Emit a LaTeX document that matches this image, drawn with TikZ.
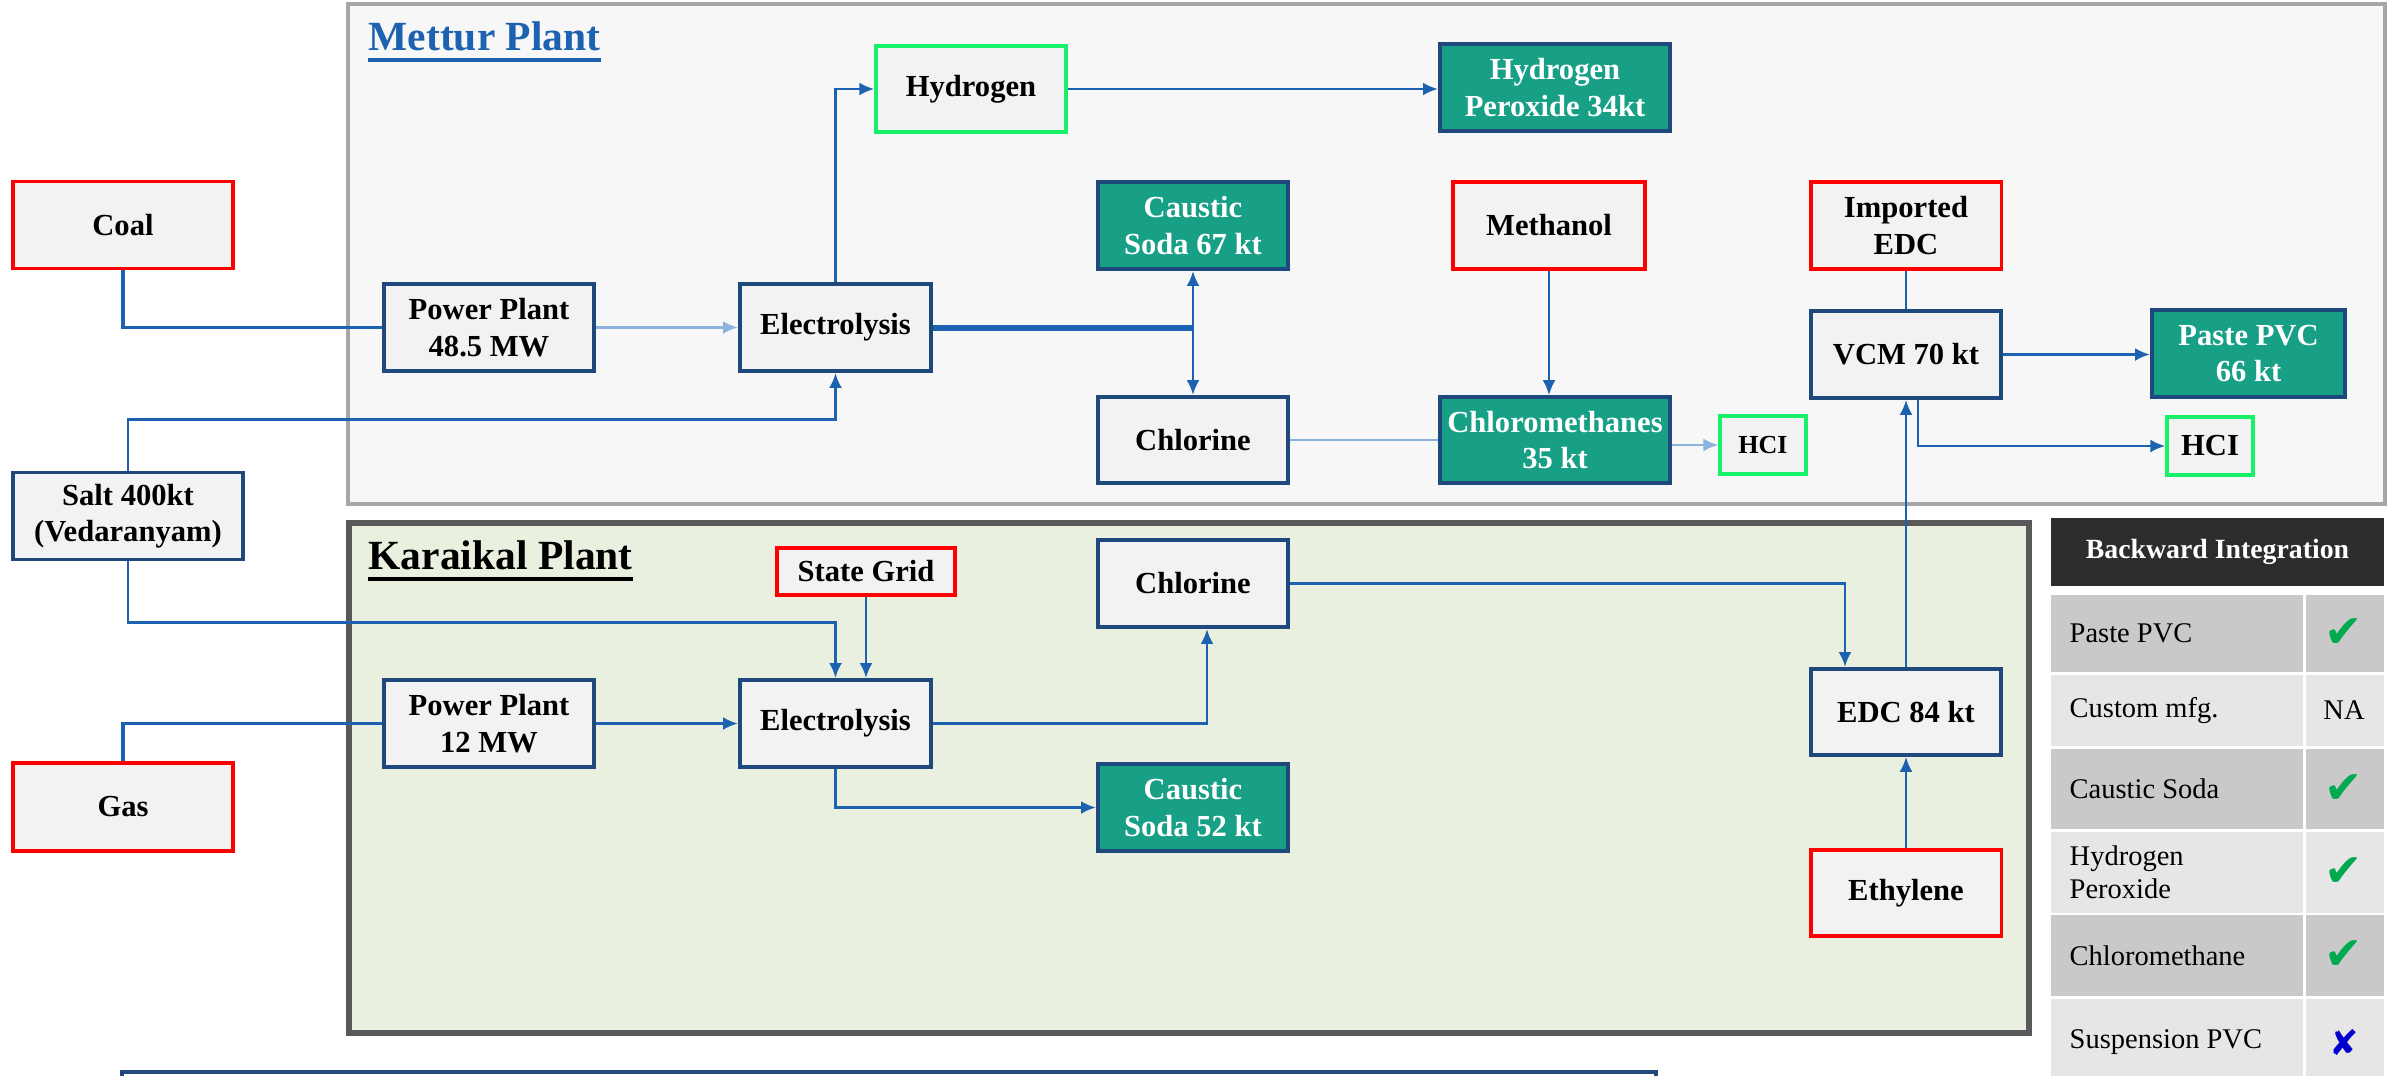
\documentclass[tikz,border=0pt]{standalone}
\usepackage{fontspec}
\setmainfont{Liberation Serif}
\newfontfamily\symfont{DejaVu Sans}
\usetikzlibrary{arrows.meta}

\definecolor{boxblue}{RGB}{31,73,125}
\definecolor{boxgray}{RGB}{242,242,242}
\definecolor{flowblue}{RGB}{28,98,176}
\definecolor{paleflow}{RGB}{140,178,222}
\definecolor{prodteal}{RGB}{24,160,134}
\definecolor{inred}{RGB}{255,0,0}
\definecolor{sidegreen}{RGB}{25,240,105}
\definecolor{metturfill}{RGB}{247,247,247}
\definecolor{karaikalfill}{RGB}{233,240,223}
\definecolor{headdark}{RGB}{45,45,45}
\definecolor{rowdark}{RGB}{201,201,201}
\definecolor{rowlight}{RGB}{230,230,230}
\definecolor{tickgreen}{RGB}{0,170,80}

\tikzset{
	unitbox/.style={draw=boxblue, line width=1.1pt, fill=boxgray, align=center, inner sep=1pt,
		font=\fontsize{8.7}{10.4}\selectfont\bfseries, minimum width=1.9cm, minimum height=0.87cm},
	inputbox/.style={unitbox, draw=inred, line width=0.9pt},
	productbox/.style={unitbox, fill=prodteal, text=white},
	sidebox/.style={unitbox, draw=sidegreen, line width=0.9pt},
	flow/.style={draw=flowblue, line width=0.8pt, -{Latex[length=1.5mm,width=1.3mm]}},
	flowline/.style={draw=flowblue, line width=0.7pt},
	paleflow/.style={flow, draw=paleflow},
	planttitle/.style={anchor=base west, inner sep=0pt, font=\fontsize{11.8}{14}\selectfont\bfseries},
	tablecell/.style={anchor=west, font=\fontsize{8.1}{9.4}\selectfont, align=left, inner sep=0pt},
}
\newcommand{\tick}{\textcolor{tickgreen}{\symfont\fontsize{13}{13}\selectfont ✔}}

\begin{document}
\begin{tikzpicture}[x=0.01cm, y=-0.01cm]
		%%%%% START %%%%%
		\useasboundingbox (0, 0) rectangle (2397, 1075);
		\clip (0, 0) rectangle (2397, 1075);
		
		% plant frames
		\draw[fill=metturfill, draw=black!35, line width=0.9pt] (348, 4) rectangle (2385, 504);
		\draw[fill=karaikalfill, draw=black!65, line width=1.5pt] (349, 523) rectangle (2029, 1033);
		\node[planttitle, text=flowblue] (metturtitle) at (368, 50) {Mettur Plant};
		\draw[flowblue, line width=1.2pt] ([yshift=-2.8pt]metturtitle.base west) -- ([yshift=-2.8pt]metturtitle.base east);
		\node[planttitle] (karaikaltitle) at (368, 569) {Karaikal Plant};
		\draw[black, line width=1.2pt] ([yshift=-2.8pt]karaikaltitle.base west) -- ([yshift=-2.8pt]karaikaltitle.base east);
		
		% raw materials
		\node[inputbox, minimum width=2.2cm] (coal) at (123, 225) {Coal};
		\node[unitbox, minimum width=2.3cm] (salt) at (128, 516) {Salt 400kt\\(Vedaranyam)};
		\node[inputbox, minimum width=2.2cm, minimum height=0.88cm] (gas) at (123, 807) {Gas};
		
		% Mettur
		\node[unitbox, minimum width=2.1cm] (pp1) at (489, 327.5) {Power Plant\\48.5 MW};
		\node[unitbox, minimum width=1.91cm] (el1) at (835.5, 327.5) {Electrolysis};
		\node[sidebox, minimum width=1.9cm, minimum height=0.86cm] (hyd) at (971, 89) {Hydrogen};
		\node[productbox, minimum width=2.3cm] (hpo) at (1555, 87.5) {Hydrogen\\Peroxide 34kt};
		\node[productbox] (cs1) at (1193, 225.5) {Caustic\\Soda 67 kt};
		\node[unitbox, minimum height=0.86cm] (cl1) at (1193, 440) {Chlorine};
		\node[inputbox, minimum width=1.92cm] (meth) at (1549, 225.5) {Methanol};
		\node[productbox, minimum width=2.3cm, minimum height=0.86cm] (cm) at (1555, 440) {Chloromethanes\\35 kt};
		\node[sidebox, minimum width=0.86cm, minimum height=0.58cm, font=\fontsize{7.4}{9}\selectfont\bfseries] (hcl1) at (1763, 445) {HCI};
		\node[inputbox] (iedc) at (1906, 225.5) {Imported\\EDC};
		\node[unitbox] (vcm) at (1906, 354.5) {VCM 70 kt};
		\node[productbox, minimum width=1.93cm] (ppvc) at (2248.5, 353.5) {Paste PVC\\66 kt};
		\node[sidebox, minimum width=0.86cm, minimum height=0.58cm] (hcl2) at (2210, 446) {HCI};
		
		% Karaikal
		\node[inputbox, minimum width=1.78cm, minimum height=0.47cm] (grid) at (866, 571.5) {State Grid};
		\node[unitbox, minimum width=2.1cm] (pp2) at (489, 723.5) {Power Plant\\12 MW};
		\node[unitbox, minimum width=1.91cm] (el2) at (835.5, 723.5) {Electrolysis};
		\node[unitbox] (cl2) at (1193, 583.5) {Chlorine};
		\node[productbox] (cs2) at (1193, 807.5) {Caustic\\Soda 52 kt};
		\node[unitbox, minimum height=0.86cm] (edc) at (1906, 712) {EDC 84 kt};
		\node[inputbox, minimum height=0.86cm] (eth) at (1906, 893) {Ethylene};
		
		% Mettur flows
		\draw[flowline, line width=0.9pt] (coal.south) |- (pp1.west);
		\draw[paleflow] (pp1.east) -- (el1.west);
		\draw[flow] (salt.north) -- ++(0, -51) -| (el1.south);
		\draw[flow] (el1.north) |- (hyd.west);
		\draw[flow] (hyd.east) -- (hyd.east -| hpo.west);
		\coordinate (split) at (cs1.south |- el1.east);
		\draw[flowline, line width=1.7pt] (el1.east) -- (split);
		\draw[flow, {Latex[length=1.5mm,width=1.3mm]}-{Latex[length=1.5mm,width=1.3mm]}] (cs1.south) -- (cl1.north);
		\draw[draw=paleflow, line width=0.8pt] (cl1.east) -- (cm.west);
		\draw[paleflow] (hcl1.west -| cm.east) -- (hcl1.west);
		\draw[flow, line width=0.6pt] (meth.south) -- (meth.south |- cm.north);
		\draw[flowline, line width=0.6pt] (iedc.south) -- (vcm.north);
		\draw[flow] (vcm.east) -- (vcm.east -| ppvc.west);
		\draw[flow] ([xshift=0.12cm]vcm.south) |- (hcl2.west);
		
		% Karaikal flows
		\draw[flowline, line width=0.9pt] (gas.north) |- (pp2.west);
		\draw[flow] (pp2.east) -- (el2.west);
		\draw[flow] (salt.south) -- ++(0, 61) -| (el2.north);
		\draw[flow] (grid.south) -- (grid.south |- el2.north);
		\draw[flow] (el2.east) -| ([xshift=0.14cm]cl2.south);
		\draw[flow] (el2.south) |- (cs2.west);
		\draw[flow] (cl2.east) -| ([xshift=-0.61cm]edc.north);
		\draw[flow, line width=0.6pt] (edc.north) -- (vcm.south);
		\draw[flow, line width=0.6pt] (eth.north) -- (edc.south);
		
		% backward integration table
		\fill[headdark] (2051, 518) rectangle (2384, 586);
		\node[text=white, font=\fontsize{7.9}{9}\selectfont\bfseries] (head) at (2217.5, 552) {Backward Integration};
		\foreach \i/\ya/\yb/\shade/\item/\mark in {
				1/595/672/rowdark/{Paste PVC}/{\tick},
				2/675/746/rowlight/{Custom mfg.}/{NA},
				3/749/829/rowdark/{Caustic Soda}/{\tick},
				4/832/913/rowlight/{Hydrogen\\Peroxide}/{\tick},
				5/915/996/rowdark/{Chloromethane}/{\tick},
				6/999/1085/rowlight/{Suspension PVC}/{\textcolor{blue!80!black}{\symfont\fontsize{10}{10}\selectfont ✘}}} {
			\fill[\shade] (2051, \ya) rectangle (2303, \yb);
			\fill[\shade] (2306, \ya) rectangle (2384, \yb);
			\node[tablecell] (item\i) at (2069, {(\ya+\yb)/2}) {\item};
			\node[font=\fontsize{8.1}{9.4}\selectfont] (mark\i) at (2344, {(\ya+\yb)/2}) {\mark};
		}
		
		% box below, cut by the edge
		\draw[boxblue, line width=0.9pt] (122, 1072) rectangle (1656, 1120);
		
		%%%%% END %%%%%
	\end{tikzpicture}
\end{document}
